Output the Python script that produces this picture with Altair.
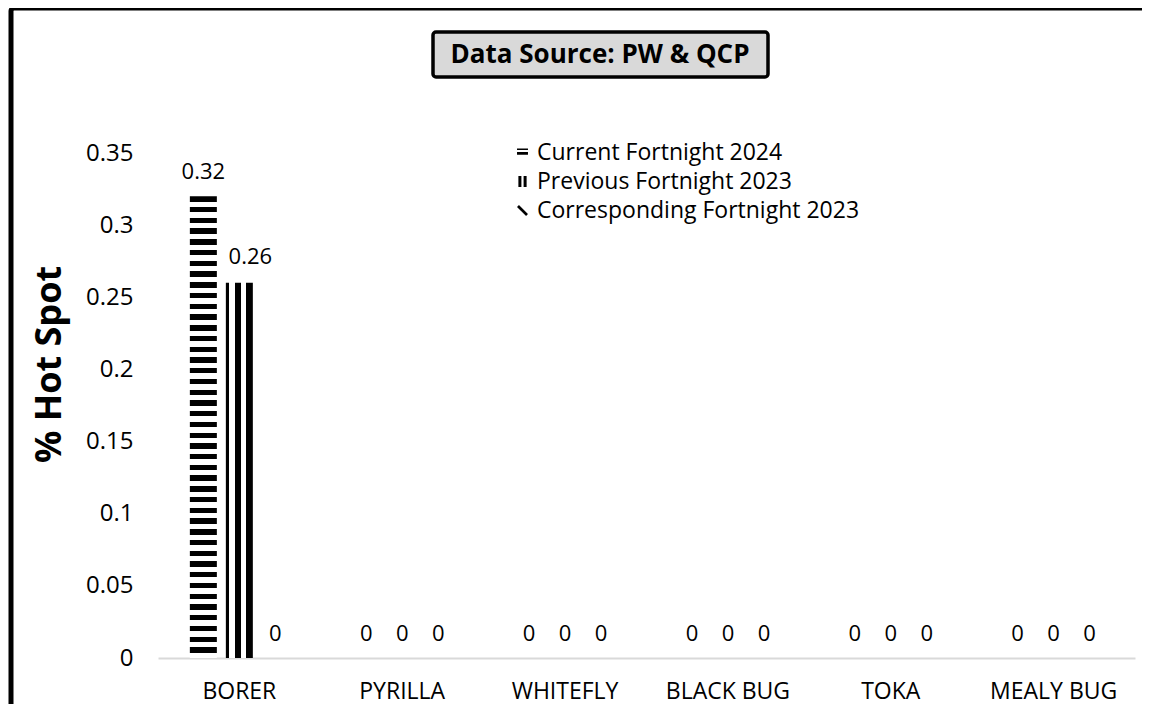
import altair as alt
import pandas as pd

categories = ["BORER", "PYRILLA", "WHITEFLY", "BLACK BUG", "TOKA", "MEALY BUG"]
series_names = ["Current Fortnight 2024", "Previous Fortnight 2023", "Corresponding Fortnight 2023"]
current_2024 = [0.32, 0, 0, 0, 0, 0]
previous_2023 = [0.26, 0, 0, 0, 0, 0]
corresponding_2023 = [0, 0, 0, 0, 0, 0]
y_ticks = [0, 0.05, 0.1, 0.15, 0.2, 0.25, 0.3, 0.35]
chart_title = "Data Source: PW & QCP"
y_title = "% Hot Spot"

rows = []
for name, vals in zip(series_names, [current_2024, previous_2023, corresponding_2023]):
    for c, v in zip(categories, vals):
        rows.append({"category": c, "series": name, "value": v, "label": f"{v:g}"})
df = pd.DataFrame(rows)

FONT = "Open Sans"


def hard_stripes(n, frac):
    stops = []
    for i in range(n):
        a = i / n
        b = (i + frac) / n
        e = (i + 1) / n
        stops += [{"color": "black", "offset": a}, {"color": "black", "offset": b},
                  {"color": "white", "offset": b}, {"color": "white", "offset": e}]
    return {"gradient": "linear", "x1": 0, "y1": 0, "x2": 0, "y2": 1, "stops": stops}


grad_current = hard_stripes(43, 0.5)
grad_previous = {"gradient": "linear", "x1": 0, "y1": 0, "x2": 1, "y2": 0, "stops": [
    {"color": "black", "offset": 0}, {"color": "black", "offset": 0.12},
    {"color": "white", "offset": 0.12}, {"color": "white", "offset": 0.33},
    {"color": "black", "offset": 0.33}, {"color": "black", "offset": 0.55},
    {"color": "white", "offset": 0.55}, {"color": "white", "offset": 0.76},
    {"color": "black", "offset": 0.76}, {"color": "black", "offset": 1}]}
grad_corr = {"gradient": "linear", "x1": 0, "y1": 0, "x2": 1, "y2": 1, "stops": [
    {"color": "black", "offset": 0}, {"color": "black", "offset": 0.25},
    {"color": "white", "offset": 0.25}, {"color": "white", "offset": 0.5},
    {"color": "black", "offset": 0.5}, {"color": "black", "offset": 0.75},
    {"color": "white", "offset": 0.75}, {"color": "white", "offset": 1}]}
grads = [grad_current, grad_previous, grad_corr]

x_enc = alt.X("category:N", sort=categories,
              scale=alt.Scale(paddingInner=0.337, paddingOuter=0.168),
              axis=alt.Axis(title=None, labelAngle=0, domainColor="#d9d9d9", domainWidth=2,
                            ticks=False, labelFont=FONT, labelFontSize=23, labelColor="black",
                            labelPadding=22, labelBaseline="top"))
xoff_enc = alt.XOffset("series:N", sort=series_names,
                       scale=alt.Scale(domain=series_names, paddingInner=0.25, paddingOuter=0.125))
y_enc = alt.Y("value:Q", scale=alt.Scale(domain=[0, 0.35], nice=False),
              axis=alt.Axis(values=y_ticks, format="~g", title=y_title, grid=False, domain=False,
                            ticks=False, labelFont=FONT, labelFontSize=24, labelColor="black",
                            labelPadding=25,
                            titleFont=FONT, titleFontSize=36, titleFontWeight="bold", titleColor="black",
                            titleAngle=270, titleAlign="center", titleBaseline="middle",
                            titleX=-109, titleY=211))

base = alt.Chart(df)

bars = []
for name, g in zip(series_names, grads):
    bars.append(
        base.transform_filter(alt.datum.series == name)
        .mark_bar(fill=g)
        .encode(x=x_enc, xOffset=xoff_enc, y=y_enc)
    )

labels_main = base.transform_filter(
    (alt.datum.series != series_names[1]) | (alt.datum.value == 0)
).mark_text(font=FONT, fontSize=22, color="black", dy=-24, baseline="middle").encode(
    x=x_enc, xOffset=xoff_enc, y=y_enc, text="label:N")
labels_prev = base.transform_filter(
    (alt.datum.series == series_names[1]) & (alt.datum.value > 0)
).mark_text(font=FONT, fontSize=22, color="black", dy=-26, dx=11, baseline="middle").encode(
    x=x_enc, xOffset=xoff_enc, y=y_enc, text="label:N")

shape_paths = [
    "M-1,-0.75H1V-0.45H-1Z M-1,-0.1H1V0.4H-1Z",
    "M-0.75,-1H-0.2V1H-0.75Z M0.2,-1H0.75V1H0.2Z",
    "M-1,-0.65L-0.65,-1L1,0.65L0.65,1Z",
]
legend_layer = base.transform_filter("false").mark_point(filled=True, color="black", opacity=1).encode(
    x=x_enc, y=y_enc,
    shape=alt.Shape("series:N", scale=alt.Scale(domain=series_names, range=shape_paths),
                    legend=alt.Legend(title=None, orient="none", legendX=353, legendY=-12,
                                      direction="vertical", labelFont=FONT, labelFontSize=23,
                                      labelColor="black", symbolSize=120, symbolFillColor="black",
                                      symbolStrokeWidth=0, symbolOpacity=1, rowPadding=5,
                                      labelOffset=3, labelLimit=400)))

frame_df = pd.DataFrame({"k": [0]})
frame = alt.Chart(frame_df).mark_rect(fill=None, stroke="black", strokeWidth=5, cornerRadius=3).encode(
    x=alt.value(-147), x2=alt.value(1040), y=alt.value(-145), y2=alt.value(620))
title_box = alt.Chart(frame_df).mark_rect(fill="#d9d9d9", stroke="black", strokeWidth=3.5,
                                          cornerRadius=3).encode(
    x=alt.value(275), x2=alt.value(610), y=alt.value(-121), y2=alt.value(-76))
title_text = alt.Chart(frame_df).mark_text(font=FONT, fontSize=26, fontWeight="bold", color="black",
                                           align="center", baseline="middle").encode(
    x=alt.value(442), y=alt.value(-98), text=alt.value(chart_title))

chart = alt.layer(frame, title_box, title_text, *bars, labels_main, labels_prev, legend_layer).properties(
    width=977, height=505,
    autosize=alt.AutoSizeParams(type="none"),
    padding={"left": 150, "top": 145, "right": 7, "bottom": 46},
    background="white",
).configure_view(stroke=None)

chart.save("out.html", embed_options={"renderer": "svg", "actions": False})
